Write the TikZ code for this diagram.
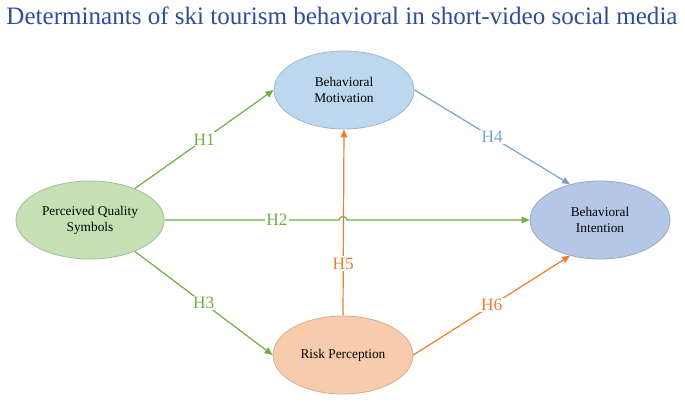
\documentclass[tikz,border=0pt]{standalone}
\usepackage{fontspec}
\setmainfont{Liberation Serif}
\usetikzlibrary{shapes.geometric,arrows.meta}
\definecolor{titleblue}{HTML}{2E4E9A}
\definecolor{hgreen}{HTML}{70AD47}
\definecolor{hblue}{HTML}{7BA3CC}
\definecolor{horange}{HTML}{ED7D31}
\definecolor{bmfill}{HTML}{BDD7EE}
\definecolor{pqfill}{HTML}{C5E0B4}
\definecolor{bifill}{HTML}{B4C7E7}
\definecolor{rpfill}{HTML}{F8CBAD}
\begin{document}
\begin{tikzpicture}[%
  x = 0.75pt, y = -0.75pt,
  var/.style = {ellipse, draw, line width = 0.6pt, align = center,
    font = \fontsize{10}{12}\selectfont, minimum width = 140*0.75pt, minimum height = 78*0.75pt},
  path/.style = {line width = 0.9pt, -{Triangle[length = 6pt, width = 5pt]}},
  hyp/.style = {font = \fontsize{13}{15}\selectfont, fill = white, inner sep = 1pt}]
  \useasboundingbox (0, 0) rectangle (685, 403);
  \node[text = titleblue, font = \fontsize{18.8}{21}\selectfont] (title) at (342, 16)
    {Determinants of ski tourism behavioral in short-video social media};

  \node[var, fill = bmfill, draw = bmfill!85!black] (bm) at (344, 90) {Behavioral\\Motivation};
  \node[var, fill = pqfill, draw = pqfill!85!black, minimum width = 136*0.75pt] (pq) at (90, 220) {Perceived Quality\\Symbols};
  \node[var, fill = bifill, draw = bifill!85!black] (bi) at (600, 220) {Behavioral\\Intention};
  \node[var, fill = rpfill, draw = rpfill!85!black] (rp) at (343, 355) {Risk Perception};

  \draw[path, hgreen] (pq.35) -- (bm.west) node[hyp, pos = 0.5, text = hgreen] {H1};
  \draw[path, hgreen] (pq.east) -- (339, 220) arc (180:360:4 and 3.5) -- (bi.west);
  \node[hyp, text = hgreen] (h2) at (277, 220) {H2};
  \draw[path, hgreen] (pq.-35) -- (rp.west) node[hyp, pos = 0.5, text = hgreen] {H3};
  \draw[path, hblue] (bm.east) -- (bi.130) node[hyp, pos = 0.5, text = hblue] {H4};
  \draw[path, horange] (rp.north) -- (bm.south) node[hyp, pos = 0.28, text = horange] {H5};
  \draw[path, horange] (rp.east) -- (bi.-130) node[hyp, pos = 0.5, text = horange] {H6};
\end{tikzpicture}
\end{document}
